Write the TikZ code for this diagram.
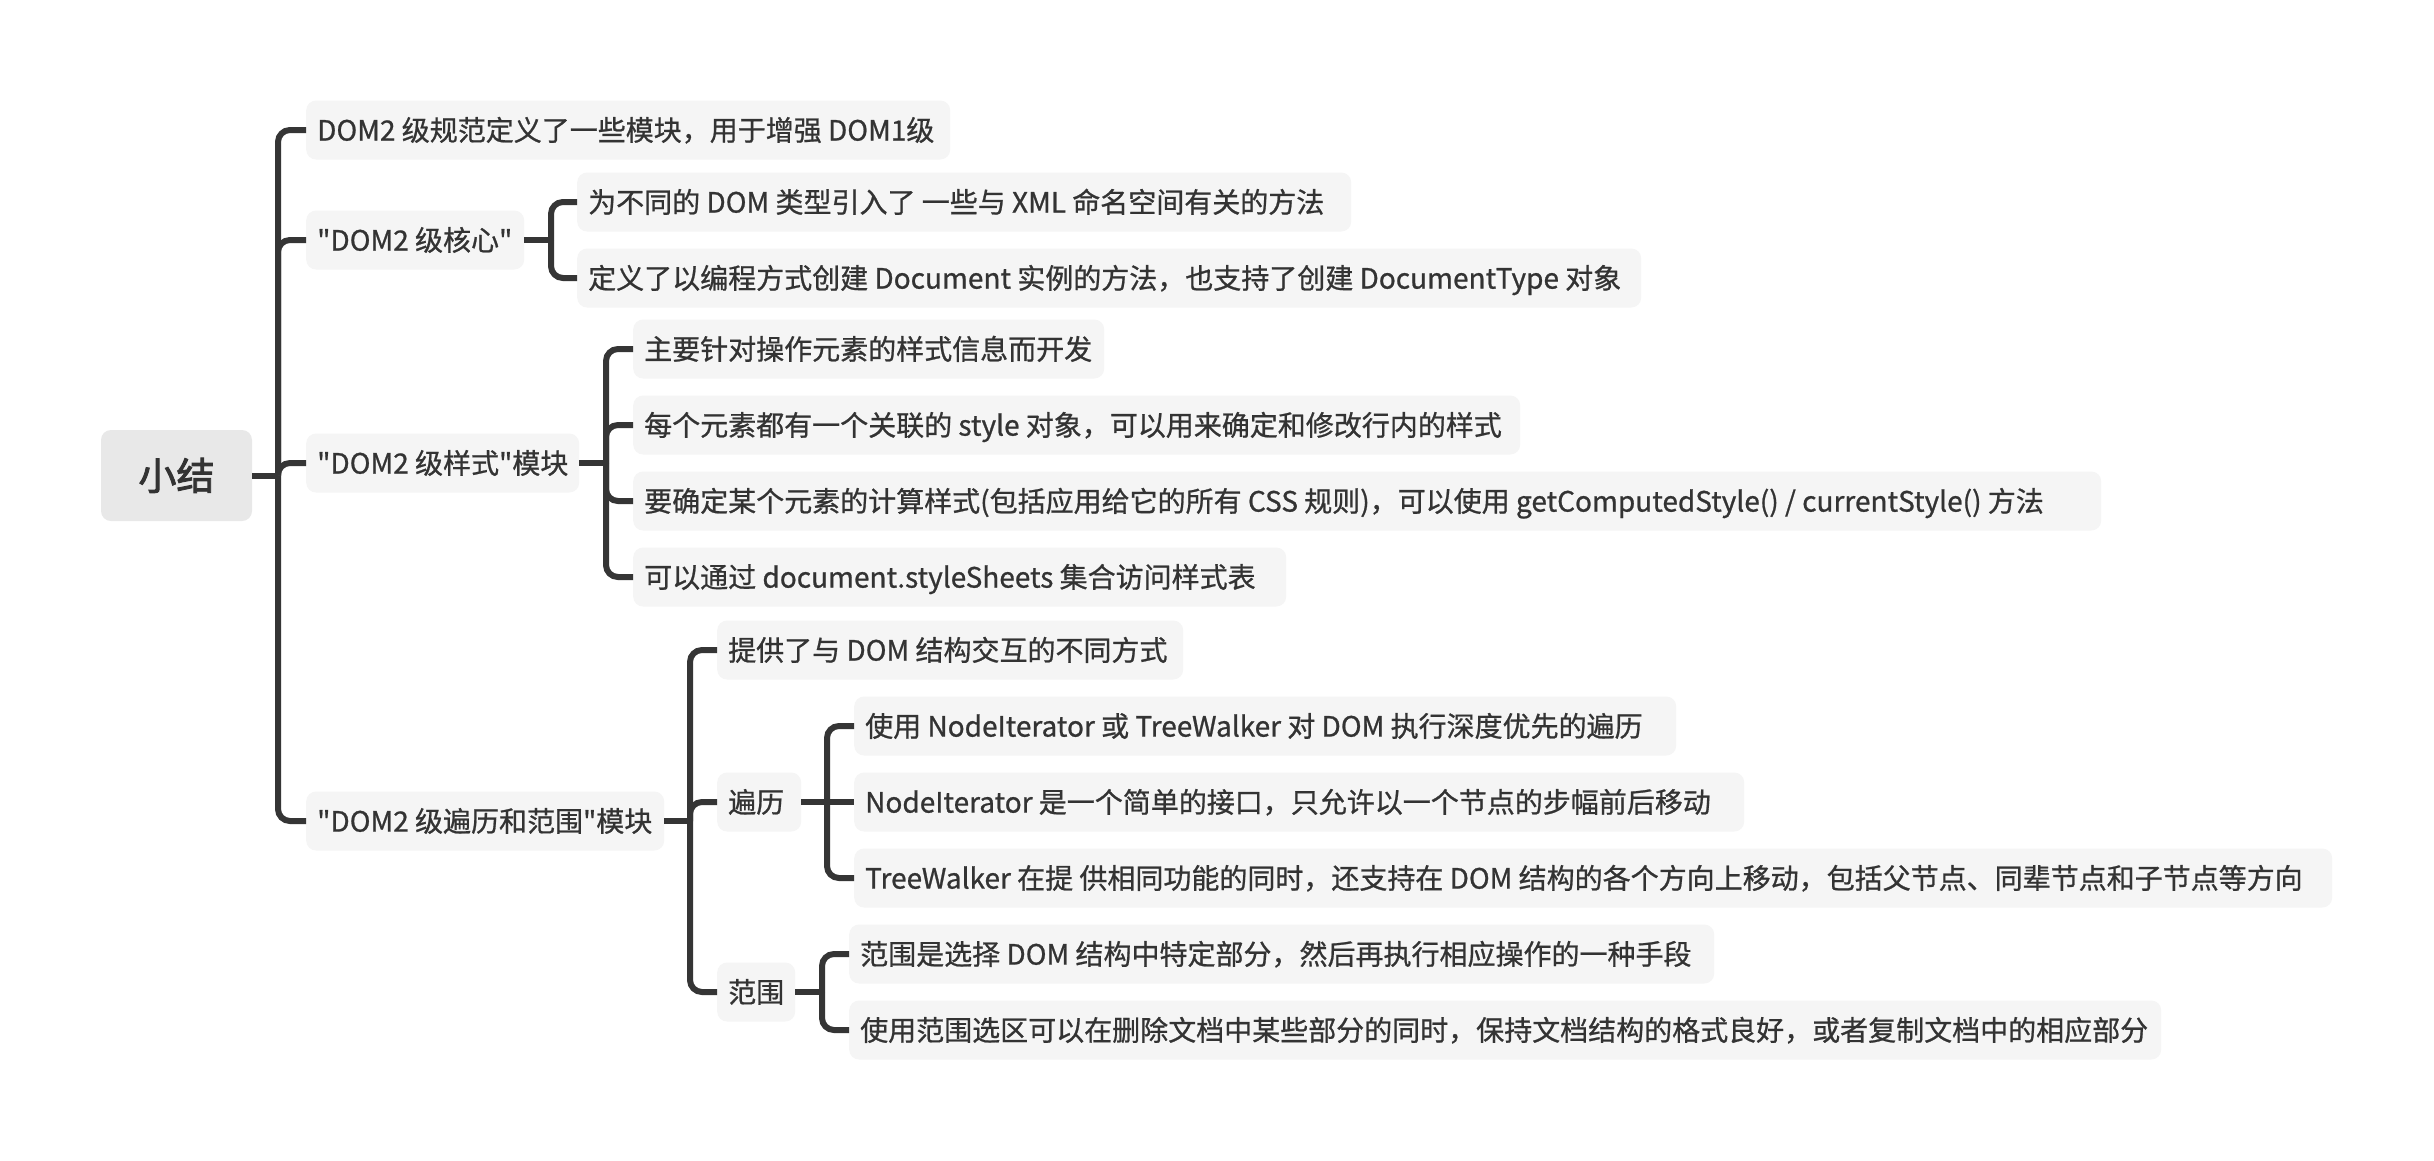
\documentclass[tikz,border=0pt]{standalone}
\usepackage{fontspec}
\newfontfamily\cjk{Noto Sans CJK SC}
\newfontfamily\cjkm[FakeBold=0.8]{Noto Sans CJK SC}
\newfontfamily\cjkr[FakeBold=2.4]{Noto Sans CJK SC}
\definecolor{txt}{HTML}{333333}
\definecolor{linec}{HTML}{353535}
\definecolor{boxfill}{HTML}{F5F5F5}
\definecolor{rootfill}{HTML}{E8E8E8}
\newcommand{\lbx}[2]{\makebox[\dimexpr #1pt-22pt\relax][l]{#2}}
\tikzset{
  leaf/.style={fill=boxfill, rounded corners=10pt, minimum height=59pt, inner xsep=11pt, inner ysep=0pt,
    anchor=west, text=txt, text height=24.6pt, text depth=3.4pt, font=\cjkm\fontsize{28}{34}\selectfont},
  rootbox/.style={fill=rootfill, rounded corners=10pt, minimum width=151pt, minimum height=91pt,
    text=txt, text height=33.4pt, text depth=4.6pt, font=\cjkr\fontsize{38}{44}\selectfont},
  conn/.style={draw=linec, line width=6pt},
  elbow/.style={conn, rounded corners=12pt}
}
\begin{document}
\begin{tikzpicture}[x=1pt,y=-1pt]
\useasboundingbox (0,0) rectangle (2434,1160);
\fill[white] (0,0) rectangle (2434,1160);

% root
\node[rootbox] (root) at (176.5,475.5) {小结};

% level 1
\node[leaf] (n1) at (306,130) {\lbx{644}{DOM2 级规范定义了一些模块，用于增强 DOM1级}};
\node[leaf] (core) at (306,240) {\lbx{218}{"DOM2 级核心"}};
\node[leaf] (style) at (306,463) {\lbx{273}{"DOM2 级样式"模块}};
\node[leaf] (trav) at (306,821) {\lbx{358}{"DOM2 级遍历和范围"模块}};

% core children
\node[leaf] (c1) at (577,202) {\lbx{774}{为不同的 DOM 类型引入了 一些与 XML 命名空间有关的方法}};
\node[leaf] (c2) at (577,278) {\lbx{1064}{定义了以编程方式创建 Document 实例的方法，也支持了创建 DocumentType 对象}};

% style children
\node[leaf] (s1) at (633,349) {\lbx{471}{主要针对操作元素的样式信息而开发}};
\node[leaf] (s2) at (633,425) {\lbx{887}{每个元素都有一个关联的 style 对象，可以用来确定和修改行内的样式}};
\node[leaf] (s3) at (633,501) {\lbx{1468}{要确定某个元素的计算样式(包括应用给它的所有 CSS 规则)，可以使用 getComputedStyle() /  currentStyle() 方法}};
\node[leaf] (s4) at (633,577) {\lbx{653}{可以通过 document.styleSheets 集合访问样式表}};

% traversal children
\node[leaf] (t0) at (717,650) {\lbx{466}{提供了与 DOM 结构交互的不同方式}};
\node[leaf] (bl) at (717,802) {\lbx{84}{遍历}};
\node[leaf] (fw) at (717,992) {\lbx{78}{范围}};

\node[leaf] (b1) at (854,726) {\lbx{822}{使用 NodeIterator 或 TreeWalker 对 DOM 执行深度优先的遍历}};
\node[leaf] (b2) at (854,802) {\lbx{890}{NodeIterator 是一个简单的接口，只允许以一个节点的步幅前后移动}};
\node[leaf] (b3) at (854,878) {\lbx{1478}{TreeWalker 在提 供相同功能的同时，还支持在 DOM 结构的各个方向上移动，包括父节点、同辈节点和子节点等方向}};

\node[leaf] (r1) at (849,954) {\lbx{865}{范围是选择 DOM 结构中特定部分，然后再执行相应操作的一种手段}};
\node[leaf] (r2) at (849,1030) {\lbx{1312}{使用范围选区可以在删除文档中某些部分的同时，保持文档结构的格式良好，或者复制文档中的相应部分}};

% bracket x positions
\coordinate (kroot) at (278,0);
\coordinate (kcore) at (551,0);
\coordinate (kstyle) at (606,0);
\coordinate (ktrav) at (690,0);
\coordinate (kbl) at (827,0);
\coordinate (kfw) at (822,0);

% root connectors
\draw[conn] (root.east) -- (root.east -| kroot);
\foreach \c in {n1,core,style,trav}
  \draw[elbow] (root.east -| kroot) |- (\c.west);

% core
\draw[conn] (core.east) -- (core.east -| kcore);
\foreach \c in {c1,c2}
  \draw[elbow] (core.east -| kcore) |- (\c.west);

% style
\draw[conn] (style.east) -- (style.east -| kstyle);
\foreach \c in {s1,s2,s3,s4}
  \draw[elbow] (style.east -| kstyle) |- (\c.west);

% trav
\draw[conn] (trav.east) -- (trav.east -| ktrav);
\foreach \c in {t0,bl,fw}
  \draw[elbow] (trav.east -| ktrav) |- (\c.west);

% bianli
\draw[conn] (bl.east) -- (bl.east -| kbl);
\foreach \c in {b1,b3}
  \draw[elbow] (bl.east -| kbl) |- (\c.west);
\draw[conn] (bl.east -| kbl) -- (b2.west);

% fanwei
\draw[conn] (fw.east) -- (fw.east -| kfw);
\foreach \c in {r1,r2}
  \draw[elbow] (fw.east -| kfw) |- (\c.west);
\end{tikzpicture}
\end{document}
